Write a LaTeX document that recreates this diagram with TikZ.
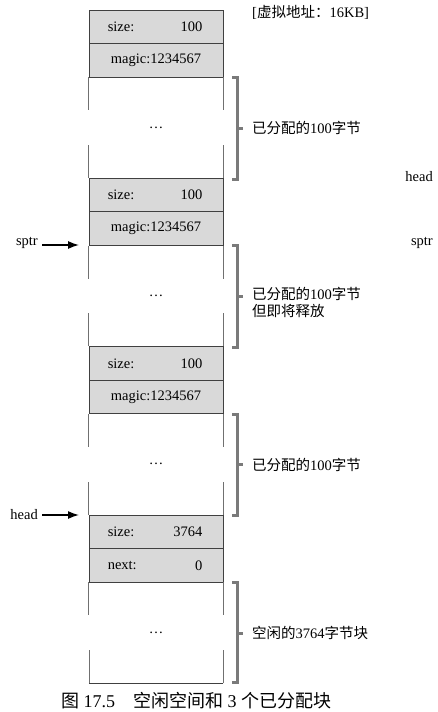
\documentclass[tikz,border=0pt]{standalone}
\usepackage{fontspec}
\setmainfont{Liberation Serif}
\newfontfamily\cjk{Noto Sans CJK SC}
\usetikzlibrary{arrows.meta,calc}
\definecolor{boxline}{HTML}{404040}
\definecolor{cellfill}{HTML}{D9D9D9}
\definecolor{vgray}{HTML}{707070}
\definecolor{brkgray}{HTML}{7A7A7A}
\newcommand\myfs{\fontsize{14.5}{17}\selectfont}
\newcommand\capfs{\fontsize{18}{21}\selectfont}
\begin{document}
\begin{tikzpicture}[x=1pt,y=-1pt,
  cell/.style={draw=boxline, fill=cellfill, line width=0.9pt, minimum width=134pt, minimum height=33.5pt, inner sep=0pt, font=\myfs},
  lbl/.style={inner sep=0pt, font=\myfs},
  vline/.style={draw=vgray, line width=0.9pt},
  brk/.style={draw=brkgray, line width=3pt, line join=miter, line cap=butt},
  ptr/.style={-{Latex[length=11pt,width=8pt]}, line width=1.4pt, black}
]
\useasboundingbox (0,0) rectangle (437,712);

% block 1
\node[cell] (s1) at (156,26.75) {};
\node[cell] (m1) at (156,60.25) {magic:1234567};
% block 2
\node[cell] (s2) at (156,195.1) {};
\node[cell] (m2) at (156,228.6) {magic:1234567};
% block 3
\node[cell] (s3) at (156,363.4) {};
\node[cell] (m3) at (156,396.9) {magic:1234567};
% block 4
\node[cell] (s4) at (156,531.75) {};
\node[cell] (n4) at (156,565.25) {};
\coordinate (bl) at (89,683.3);
\coordinate (br) at (223,683.3);

% size / next texts
\foreach \c/\v in {s1/100,s2/100,s3/100,s4/3764}{
  \node[lbl, anchor=west] (\c l) at ($(\c.west)+(19,0)$) {size:};
  \node[lbl, anchor=east] (\c r) at ($(\c.east)+(-21,0)$) {\v};
}
\node[lbl, anchor=west] (n4l) at ($(n4.west)+(19,0)$) {next:};
\node[lbl, anchor=east] (n4r) at ($(n4.east)+(-21,0)$) {0};

% white regions
\foreach \a/\b in {m1/s2,m2/s3,m3/s4}{
  \draw[vline] (\a.south west) -- ++(0,33);
  \draw[vline] (\a.south east) -- ++(0,33);
  \draw[vline] (\b.north west) -- ++(0,-33);
  \draw[vline] (\b.north east) -- ++(0,-33);
}
\draw[vline] (n4.south west) -- ++(0,33);
\draw[vline] (n4.south east) -- ++(0,33);
\draw[vline] (bl) -- ++(0,-33);
\draw[vline] (br) -- ++(0,-33);
\draw[draw=boxline, line width=0.9pt] (bl) -- (br);

% dots
\node[lbl, anchor=base] (d1) at (156,128) {\dots};
\node[lbl, anchor=base] (d2) at (156,296) {\dots};
\node[lbl, anchor=base] (d3) at (156,464.5) {\dots};
\node[lbl, anchor=base] (d4) at (156,633) {\dots};

% brackets
\draw[brk] (232,77.5) -- (237,77.5) -- (237,179) -- (232,179);
\draw[brk] (237,128) -- (243,128);
\draw[brk] (232,245.5) -- (237,245.5) -- (237,347) -- (232,347);
\draw[brk] (237,296) -- (243,296);
\draw[brk] (232,414) -- (237,414) -- (237,515.5) -- (232,515.5);
\draw[brk] (237,464.5) -- (243,464.5);
\draw[brk] (232,582.5) -- (237,582.5) -- (237,682) -- (232,682);
\draw[brk] (237,633) -- (243,633);

% labels
\node[lbl, anchor=west] (t1) at (252,128) {{\cjk 已分配的}100{\cjk 字节}};
\node[lbl, anchor=north west, align=left] (t2) at (252,287) {{\cjk 已分配的}100{\cjk 字节}\\{\cjk 但即将释放}};
\node[lbl, anchor=west] (t3) at (252,464.5) {{\cjk 已分配的}100{\cjk 字节}};
\node[lbl, anchor=west] (t4) at (252,633) {{\cjk 空闲的}3764{\cjk 字节块}};

\node[lbl, anchor=west] (top) at (252,12) {[{\cjk 虚拟地址：}16KB]};

% pointers
\node[lbl, anchor=east] (sp) at (38,243) {sptr};
\coordinate (spt) at (79,245);
\draw[ptr] ($(sp.east)+(4,2)$) -- (spt);
\node[lbl, anchor=east] (hd) at (38,515) {head};
\coordinate (hdt) at (79,515);
\draw[ptr] ($(hd.east)+(4,0)$) -- (hdt);

% stray right labels
\node[lbl, anchor=east] (hr) at (433,177) {head};
\node[lbl, anchor=east] (sr) at (433,243) {sptr};

% caption
\node[inner sep=0pt, font=\capfs] (cap) at (196,701) {{\cjk 图} 17.5{\cjk 　空闲空间和} 3 {\cjk 个已分配块}};
\end{tikzpicture}
\end{document}
